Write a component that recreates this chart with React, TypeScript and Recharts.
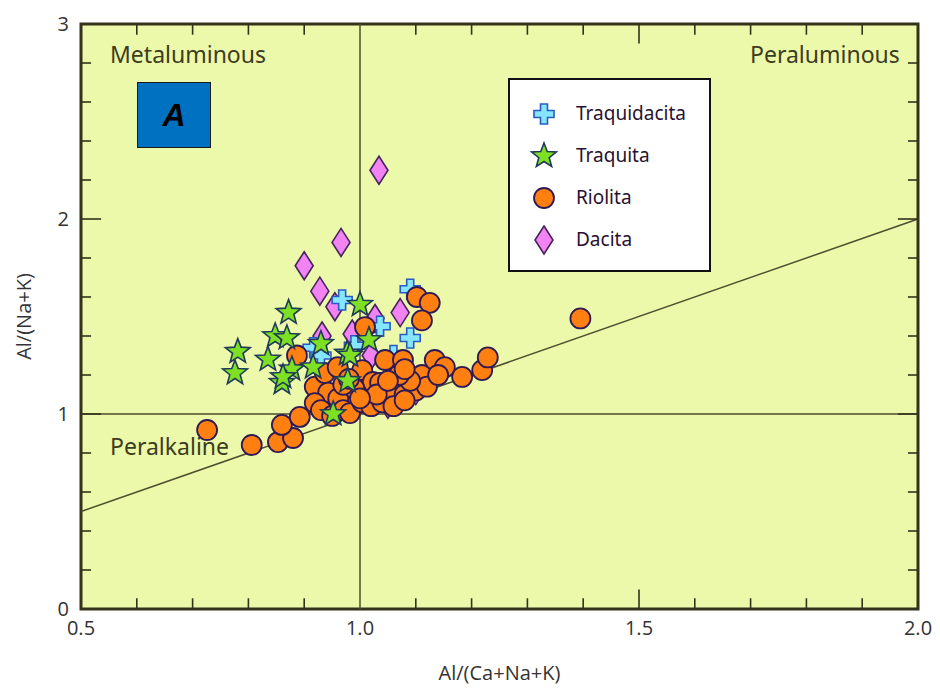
import {
  ScatterChart,
  Scatter,
  XAxis,
  YAxis,
  ReferenceArea,
  ReferenceLine,
  Label,
} from "recharts";

// Al/(Ca+Na+K) vs Al/(Na+K)
const dacita = [
  { x: 1.034, y: 2.25 },
  { x: 0.966, y: 1.88 },
  { x: 0.9, y: 1.76 },
  { x: 0.928, y: 1.63 },
  { x: 0.955, y: 1.55 },
  { x: 0.932, y: 1.4 },
  { x: 0.986, y: 1.41 },
  { x: 1.027, y: 1.49 },
  { x: 1.072, y: 1.52 },
  { x: 1.02, y: 1.3 },
  { x: 0.98, y: 1.08 },
  { x: 1.05, y: 1.05 },
  { x: 1.1, y: 1.12 },
];

const traquidacita = [
  { x: 0.968, y: 1.585 },
  { x: 1.09, y: 1.64 },
  { x: 1.09, y: 1.39 },
  { x: 1.036, y: 1.45 },
  { x: 0.916, y: 1.34 },
  { x: 0.93, y: 1.3 },
  { x: 0.99, y: 1.35 },
  { x: 1.06, y: 1.3 },
];

const riolita = [
  { x: 0.726, y: 0.918 },
  { x: 0.806, y: 0.841 },
  { x: 0.853, y: 0.856 },
  { x: 0.88, y: 0.877 },
  { x: 0.86, y: 0.944 },
  { x: 0.892, y: 0.985 },
  { x: 0.887, y: 1.3 },
  { x: 0.919, y: 1.14 },
  { x: 0.937, y: 1.21 },
  { x: 0.943, y: 1.11 },
  { x: 0.961, y: 1.08 },
  { x: 0.919, y: 1.056 },
  { x: 0.93, y: 1.02 },
  { x: 0.95, y: 0.99 },
  { x: 0.97, y: 1.02 },
  { x: 0.982, y: 1.005 },
  { x: 1.004, y: 1.06 },
  { x: 1.005, y: 1.12 },
  { x: 1.004, y: 1.225 },
  { x: 1.009, y: 1.446 },
  { x: 1.023, y: 1.164 },
  { x: 1.036, y: 1.16 },
  { x: 1.045, y: 1.277 },
  { x: 1.063, y: 1.13 },
  { x: 1.077, y: 1.277 },
  { x: 1.102, y: 1.6 },
  { x: 1.125, y: 1.57 },
  { x: 1.111, y: 1.48 },
  { x: 1.111, y: 1.2 },
  { x: 1.134, y: 1.277 },
  { x: 1.152, y: 1.24 },
  { x: 1.183, y: 1.19 },
  { x: 1.219, y: 1.225 },
  { x: 1.229, y: 1.29 },
  { x: 1.395, y: 1.49 },
  { x: 1.02, y: 1.04 },
  { x: 1.04, y: 1.06 },
  { x: 1.06, y: 1.08 },
  { x: 1.08, y: 1.1 },
  { x: 1.1, y: 1.12 },
  { x: 1.12, y: 1.14 },
  { x: 1.09, y: 1.17 },
  { x: 1.07, y: 1.2 },
  { x: 1.03, y: 1.1 },
  { x: 1.05, y: 1.17 },
  { x: 1.14, y: 1.2 },
  { x: 0.99, y: 1.13 },
  { x: 0.97, y: 1.15 },
  { x: 0.96, y: 1.24 },
  { x: 0.98, y: 1.18 },
  { x: 1.08, y: 1.23 },
  { x: 1.0, y: 1.08 },
  { x: 1.06, y: 1.04 },
  { x: 1.08, y: 1.07 },
];

const traquita = [
  { x: 0.781, y: 1.32 },
  { x: 0.776, y: 1.21 },
  { x: 0.835, y: 1.28 },
  { x: 0.848, y: 1.4 },
  { x: 0.86, y: 1.16 },
  { x: 0.872, y: 1.52 },
  { x: 0.869, y: 1.39 },
  { x: 0.878, y: 1.23 },
  { x: 0.862, y: 1.19 },
  { x: 0.916, y: 1.24 },
  { x: 0.977, y: 1.31 },
  { x: 0.978, y: 1.17 },
  { x: 0.952, y: 1.0 },
  { x: 1.0, y: 1.56 },
  { x: 1.016, y: 1.38 },
  { x: 0.982, y: 1.3 },
  { x: 0.93, y: 1.36 },
];

const X_TICKS = [0.5, 1.0, 1.5, 2.0];
const Y_TICKS = [0, 1, 2, 3];
const X_MINOR = [0.6, 0.7, 0.8, 0.9, 1.1, 1.2, 1.3, 1.4, 1.6, 1.7, 1.8, 1.9];
const X_MAJOR = [1.5];
const Y_MINOR = [0.2, 0.4, 0.6, 0.8, 1.2, 1.4, 1.6, 1.8, 2.2, 2.4, 2.6, 2.8];
const Y_MAJOR = [1, 2];
const LEGEND = ["Traquidacita", "Traquita", "Riolita", "Dacita"];

const BG = "#edf9aa";
const FRAME = "#33331a";
const LINE = "#4d4d2e";
const TICK_FONT = '"Liberation Sans Narrow", "Open Sans", sans-serif';
const TEXT_FONT = '"Noto Sans", "Open Sans", sans-serif';

const Cross = ({ cx, cy }: any) => {
  const a = 10;
  const w = 3.5;
  const d = `M${cx - w},${cy - a} H${cx + w} V${cy - w} H${cx + a} V${cy + w} H${cx + w} V${cy + a} H${cx - w} V${cy + w} H${cx - a} V${cy - w} H${cx - w} Z`;
  return <path d={d} fill="#86e6ff" stroke="#2a5bc4" strokeWidth={1.6} />;
};

const Star = ({ cx, cy }: any) => {
  const pts: string[] = [];
  for (let i = 0; i < 10; i++) {
    const r = i % 2 === 0 ? 13 : 5.5;
    const ang = -Math.PI / 2 + (i * Math.PI) / 5;
    pts.push(`${cx + r * Math.cos(ang)},${cy + r * Math.sin(ang)}`);
  }
  return (
    <polygon points={pts.join(" ")} fill="#7ee022" stroke="#1f3a5a" strokeWidth={1.6} />
  );
};

const Dot = ({ cx, cy }: any) => (
  <circle cx={cx} cy={cy} r={10} fill="#ff8010" stroke="#2e1a55" strokeWidth={1.8} />
);

const Diamond = ({ cx, cy }: any) => {
  const d = `M${cx},${cy - 14} L${cx + 9},${cy} L${cx},${cy + 14} L${cx - 9},${cy} Z`;
  return <path d={d} fill="#f283f2" stroke="#45245e" strokeWidth={1.6} />;
};

const ICONS: Record<string, (p: any) => any> = {
  Traquidacita: Cross,
  Traquita: Star,
  Riolita: Dot,
  Dacita: Diamond,
};

const tick = (key: string, a: { x: number; y: number }, b: { x: number; y: number }) => (
  <ReferenceLine key={key} segment={[a, b]} stroke={FRAME} strokeWidth={1.6} ifOverflow="visible" />
);

export default function App() {
  return (
    <div style={{ position: "absolute", left: 0, top: 0, width: 940, height: 689, background: "#fff" }}>
      <ScatterChart
        width={940}
        height={689}
        margin={{ top: 24, right: 22, bottom: 0, left: 0 }}
      >
        <XAxis
          type="number"
          dataKey="x"
          domain={[0.5, 2]}
          ticks={X_TICKS}
          tickFormatter={(v: number) => v.toFixed(1)}
          axisLine={false}
          tickLine={false}
          height={80}
          tick={{ fontSize: 20, fill: "#333", fontFamily: TICK_FONT }}
          tickMargin={6}
          allowDataOverflow
        >
          <Label
            value="Al/(Ca+Na+K)"
            position="insideBottom"
            offset={9}
            style={{ fontSize: 20, fill: "#333", fontFamily: TICK_FONT }}
          />
        </XAxis>
        <YAxis
          type="number"
          dataKey="y"
          domain={[0, 3]}
          ticks={Y_TICKS}
          axisLine={false}
          tickLine={false}
          width={81}
          tick={{ fontSize: 20, fill: "#333", fontFamily: TICK_FONT }}
          tickMargin={6}
          allowDataOverflow
        >
          <Label
            value="Al/(Na+K)"
            angle={-90}
            position="insideLeft"
            offset={24}
            style={{ fontSize: 20, fill: "#333", fontFamily: TICK_FONT, textAnchor: "middle" }}
          />
        </YAxis>
        <ReferenceArea x1={0.5} x2={2} y1={0} y2={3} fill={BG} fillOpacity={1} stroke="none" />
        <ReferenceLine y={1} stroke={LINE} strokeWidth={1.5} />
        <ReferenceLine x={1} stroke={LINE} strokeWidth={1.5} />
        <ReferenceLine
          segment={[
            { x: 0.5, y: 0.5 },
            { x: 2, y: 2 },
          ]}
          stroke={LINE}
          strokeWidth={1.5}
        />
        {X_MINOR.map((t) => tick(`xb${t}`, { x: t, y: 0.001 }, { x: t, y: 0.055 }))}
        {X_MINOR.map((t) => tick(`xt${t}`, { x: t, y: 3 }, { x: t, y: 2.945 }))}
        {X_MAJOR.map((t) => tick(`xB${t}`, { x: t, y: 0.001 }, { x: t, y: 0.1 }))}
        {X_MAJOR.map((t) => tick(`xT${t}`, { x: t, y: 3 }, { x: t, y: 2.9 }))}
        {Y_MINOR.map((t) => tick(`yl${t}`, { x: 0.5, y: t }, { x: 0.518, y: t }))}
        {Y_MINOR.map((t) => tick(`yr${t}`, { x: 2, y: t }, { x: 1.982, y: t }))}
        {Y_MAJOR.map((t) => tick(`yL${t}`, { x: 0.5, y: t }, { x: 0.536, y: t }))}
        {Y_MAJOR.map((t) => tick(`yR${t}`, { x: 2, y: t }, { x: 1.964, y: t }))}
        <ReferenceArea x1={0.5} x2={2} y1={0} y2={3} fill="none" stroke={FRAME} strokeWidth={3} />
        <Scatter name="Dacita" data={dacita} shape={Diamond} isAnimationActive={false} />
        <Scatter name="Traquidacita" data={traquidacita} shape={Cross} isAnimationActive={false} />
        <Scatter name="Riolita" data={riolita} shape={Dot} isAnimationActive={false} />
        <Scatter name="Traquita" data={traquita} shape={Star} isAnimationActive={false} />
      </ScatterChart>

      <div style={{ position: "absolute", left: 110, top: 38, fontSize: 23, color: "#3c3c1e", fontFamily: TEXT_FONT }}>
        Metaluminous
      </div>
      <div style={{ position: "absolute", left: 750, top: 38, fontSize: 23, color: "#3c3c1e", fontFamily: TEXT_FONT }}>
        Peraluminous
      </div>
      <div style={{ position: "absolute", left: 110, top: 430, fontSize: 23, color: "#3c3c1e", fontFamily: TEXT_FONT }}>
        Peralkaline
      </div>

      <div
        style={{
          position: "absolute",
          left: 137,
          top: 82,
          width: 72,
          height: 64,
          background: "#0070c0",
          border: "1px solid #1a1a1a",
          display: "flex",
          alignItems: "center",
          justifyContent: "center",
          fontFamily: '"Liberation Sans", Arial, sans-serif',
          fontWeight: "bold",
          fontStyle: "italic",
          fontSize: 32,
          color: "#000",
        }}
      >
        A
      </div>

      <div
        style={{
          position: "absolute",
          left: 508,
          top: 78,
          width: 199,
          height: 190,
          background: "#fff",
          border: "2px solid #111",
        }}
      >
        {LEGEND.map((name, i) => {
          const Icon = ICONS[name];
          return (
            <div key={name} style={{ position: "absolute", left: 0, top: 19 + i * 42, height: 28, width: 199 }}>
              <svg width={40} height={32} style={{ position: "absolute", left: 14, top: 0 }}>
                <Icon cx={20} cy={15} />
              </svg>
              <div
                style={{
                  position: "absolute",
                  left: 66,
                  top: 1,
                  fontSize: 19,
                  color: "#2a1030",
                  fontFamily: TEXT_FONT,
                }}
              >
                {name}
              </div>
            </div>
          );
        })}
      </div>
    </div>
  );
}
